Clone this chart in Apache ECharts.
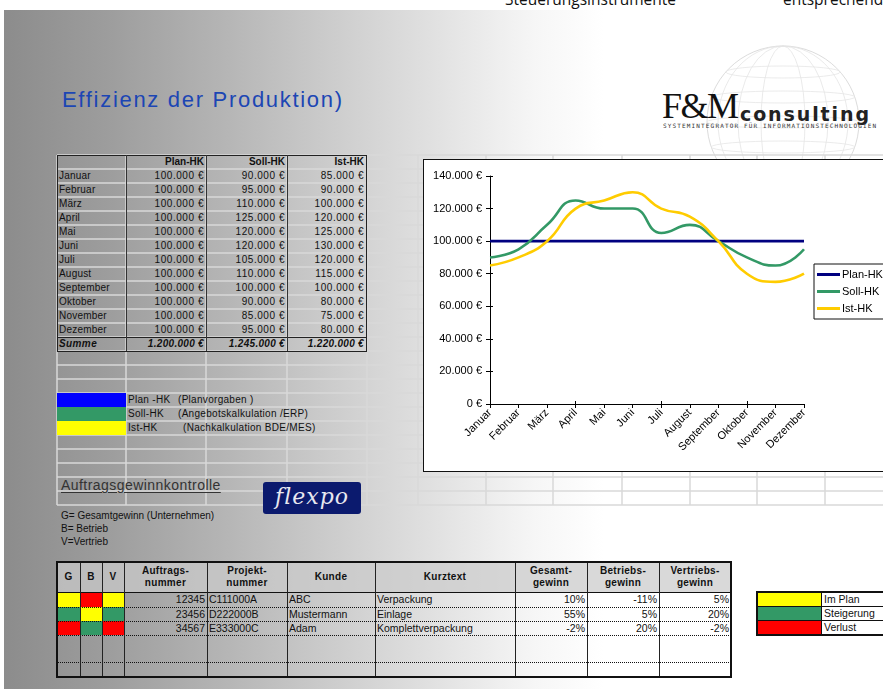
<!DOCTYPE html>
<html><head><meta charset="utf-8">
<script src="https://cdn.jsdelivr.net/npm/echarts@6/dist/echarts.min.js"></script>
<style>
html,body{margin:0;padding:0;}
body{width:883px;height:689px;overflow:hidden;position:relative;background:#fff;font-family:"Liberation Sans",Arial,sans-serif;}
.a{position:absolute;box-sizing:border-box;white-space:nowrap;}
</style></head>
<body>
<div id="root"></div>
<script>
// ---------- data ----------
const months = ['Januar','Februar','März','April','Mai','Juni','Juli','August','September','Oktober','November','Dezember'];
const planHK = [100000,100000,100000,100000,100000,100000,100000,100000,100000,100000,100000,100000];
const sollHK = [90000,95000,110000,125000,120000,120000,105000,110000,100000,90000,85000,95000];
const istHK  = [85000,90000,100000,120000,125000,130000,120000,115000,100000,80000,75000,80000];
const seriesNames = ['Plan-HK','Soll-HK','Ist-HK'];
const yTickMax = 140000, yTickStep = 20000;

const hkLegendNames = ['Plan -HK','Soll-HK','Ist-HK'];
const hkLegendNotes = ['(Planvorgaben )','(Angebotskalkulation /ERP)','(Nachkalkulation  BDE/MES)'];

const abbrevNotes = ['G= Gesamtgewinn (Unternehmen)','B= Betrieb','V=Vertrieb'];

const orderHeaders = ['G','B','V','Auftrags-\nnummer','Projekt-\nnummer','Kunde','Kurztext','Gesamt-\ngewinn','Betriebs-\ngewinn','Vertriebs-\ngewinn'];
const orderNos  = ['12345','23456','34567'];
const projectNos = ['C111000A','D222000B','E333000C'];
const customers = ['ABC','Mustermann','Adam'];
const shortTexts = ['Verpackung','Einlage','Komplettverpackung'];
const totalProfit = ['10%','55%','-2%'];
const plantProfit = ['-11%','5%','20%'];
const salesProfit = ['5%','20%','-2%'];
const gStatus = ['plan','up','loss'];
const bStatus = ['loss','plan','up'];
const vStatus = ['plan','up','loss'];
const statusKeys = ['plan','up','loss'];
const statusLabels = ['Im Plan','Steigerung','Verlust'];

// ---------- styles ----------
const seriesColors = ['#000080','#339966','#FFCC00'];
const hkSwatch = ['#0000FF','#339966','#FFFF00'];
const statusColor = {plan:'#FFFF00', up:'#339966', loss:'#FF0000'};

const root = document.getElementById('root');
function box(x,y,w,h,css,text){
  const d=document.createElement('div');
  d.className='a';
  d.style.cssText += `left:${x}px;top:${y}px;width:${w}px;height:${h}px;`+(css||'');
  if(text!=null) d.textContent=text;
  root.appendChild(d); return d;
}
function fmtEuro(v){ return String(v).replace(/\B(?=(\d{3})+(?!\d))/g,'.')+' €'; }
const sum = a => a.reduce((s,v)=>s+v,0);

// ---------- background ----------
box(4,10,879,679,'background:linear-gradient(to right,#8c8c8c 0px,#9e9e9e 110px,#b7b7b7 230px,#cfcfcf 340px,#e3e3e3 440px,#f6f6f6 530px,#ffffff 600px);');
box(505,-12,200,22,'font-family:"Open Sans";font-size:15.5px;line-height:22px;color:#111;','Steuerungsinstrumente');
box(783,-12,200,22,'font-family:"Open Sans";font-size:15.5px;line-height:22px;color:#111;','entsprechend');

// globe + sheet grid (svg)
const svgNS='http://www.w3.org/2000/svg';
const svg=document.createElementNS(svgNS,'svg');
svg.setAttribute('width','883');svg.setAttribute('height','689');
svg.style.cssText='position:absolute;left:0;top:0;';
root.appendChild(svg);
function sv(tag,attrs){const e=document.createElementNS(svgNS,tag);for(const k in attrs)e.setAttribute(k,attrs[k]);svg.appendChild(e);return e;}
const gc={cx:783,cy:122,r:76};
sv('circle',{cx:gc.cx,cy:gc.cy,r:gc.r,fill:'none',stroke:'#dcdcdc','stroke-width':1});
[22,45,65].forEach(rx=>sv('ellipse',{cx:gc.cx,cy:gc.cy,rx:rx,ry:gc.r,fill:'none',stroke:'#e4e4e4','stroke-width':0.8}));
[-50,-25,0,25,50].forEach(dy=>{const hw=Math.sqrt(gc.r*gc.r-dy*dy);sv('ellipse',{cx:gc.cx,cy:gc.cy+dy,rx:hw,ry:6,fill:'none',stroke:'#e6e6e6','stroke-width':0.8});});

const gridCols=[57,126,206,287,367,418,486,553,622,690,757,825,893];
const gridTop=155, gridRow=14, gridRows=25;
for(let i=0;i<=gridRows;i++){const y=gridTop+i*gridRow;sv('line',{x1:57,x2:883,y1:y,y2:y,stroke:'#d8d8d8','stroke-width':1.5});}
gridCols.forEach(x=>sv('line',{x1:x,x2:x,y1:gridTop,y2:gridTop+gridRows*gridRow,stroke:'#d8d8d8','stroke-width':1.5}));

// ---------- title & logo ----------
box(62,85,340,30,'font-size:22px;letter-spacing:1.7px;color:#1c46b4;line-height:30px;','Effizienz der Produktion)');
box(662,84,100,44,'font-family:"Liberation Serif";font-size:36px;line-height:44px;color:#111;letter-spacing:-1.5px;','F&M');
box(740,101,150,26,'font-family:"DejaVu Sans";font-weight:bold;font-size:19px;line-height:26px;color:#222;letter-spacing:1.9px;','consulting');
box(663,122,230,8,'font-family:"DejaVu Sans Mono";font-size:6px;line-height:8px;color:#333;letter-spacing:1.15px;','SYSTEMINTEGRATOR FÜR INFORMATIONSTECHNOLOGIEN');

// ---------- HK data table ----------
const tX=[57,126,206,287,366];
const tTop=155, rh=14;
const cellFont='font-size:10px;line-height:14px;color:#111;';
const hdr=['','Plan-HK','Soll-HK','Ist-HK'];
hdr.forEach((t,c)=>{ if(t) box(tX[c],tTop,tX[c+1]-tX[c],rh,cellFont+'font-weight:bold;text-align:right;padding-right:2px;',t); });
months.forEach((m,r)=>{
  const y=tTop+(r+1)*rh;
  box(tX[0],y,tX[1]-tX[0],rh,cellFont+'padding-left:2px;letter-spacing:0.2px;',m);
  [planHK,sollHK,istHK].forEach((arr,c)=>box(tX[c+1],y,tX[c+2]-tX[c+1],rh,cellFont+'text-align:right;padding-right:2px;letter-spacing:0.55px;',fmtEuro(arr[r])));
});
{
  const y=tTop+13*rh;
  box(tX[0],y,tX[1]-tX[0],rh,cellFont+'padding-left:2px;font-weight:bold;font-style:italic;letter-spacing:0.4px;','Summe');
  [planHK,sollHK,istHK].forEach((arr,c)=>box(tX[c+1],y,tX[c+2]-tX[c+1],rh,cellFont+'text-align:right;padding-right:2px;font-weight:bold;font-style:italic;letter-spacing:0.3px;',fmtEuro(sum(arr))));
  const bottom=tTop+14*rh;
  box(tX[0],tTop,tX[4]-tX[0]+1,bottom-tTop+1,'border:1.5px solid #222;');
  box(tX[0],y,tX[4]-tX[0],1,'border-top:1.5px solid #222;');
  [1,2,3].forEach(c=>box(tX[c],tTop,1,bottom-tTop,'border-left:1px solid #333;'));
}

// ---------- HK colour legend ----------
hkLegendNames.forEach((n,i)=>{
  const y=393+i*14;
  box(57,y,69,14,'background:'+hkSwatch[i]+';');
  box(128,y,60,14,'font-size:10px;line-height:14px;color:#111;letter-spacing:0.3px;',n);
  box(i===2?183:178,y,200,14,'font-size:10px;line-height:14px;color:#111;letter-spacing:0.3px;',hkLegendNotes[i]);
});

// ---------- Auftragsgewinnkontrolle ----------
box(61,476,200,18,'font-size:14px;line-height:18px;color:#333;letter-spacing:0.45px;text-decoration:underline;text-underline-offset:2px;','Auftragsgewinnkontrolle');
abbrevNotes.forEach((t,i)=>box(61,509+i*13,220,13,'font-size:10px;line-height:13px;color:#111;',t));
box(263,482,98,32,'background:#0b1a6e;border-radius:3px;');
box(263,480,98,34,'font-family:"DejaVu Serif";font-style:italic;font-size:22px;line-height:34px;color:#e8e8f0;text-align:center;letter-spacing:1px;','flexpo');

// ---------- order table ----------
const oX=[57,80,102,124,207,287,375,515,587,659,731];
const oY=[562,592,607,621,635,662,677];
box(oX[0],oY[0],oX[10]-oX[0],oY[1]-oY[0],'background:rgba(203,203,203,0.72);');
orderHeaders.forEach((t,c)=>{
  const two=t.indexOf('\n')>=0;
  box(oX[c],oY[0]+1,oX[c+1]-oX[c],oY[1]-oY[0]-1,'font-size:10px;font-weight:bold;color:#111;text-align:center;white-space:pre;line-height:'+(two?'12px':'28px')+';padding-top:'+(two?'2px':'0')+';letter-spacing:0.3px;',t);
});
for(let r=0;r<3;r++){
  const y=oY[r+1], h=oY[r+2]-oY[r+1];
  [gStatus,bStatus,vStatus].forEach((s,c)=>box(oX[c],y,oX[c+1]-oX[c],h,'background:'+statusColor[s[r]]+';'));
  const fc='font-size:10.5px;line-height:'+h+'px;color:#111;';
  box(oX[3],y,oX[4]-oX[3],h,fc+'text-align:right;padding-right:2px;',orderNos[r]);
  box(oX[4],y,oX[5]-oX[4],h,fc+'padding-left:2px;',projectNos[r]);
  box(oX[5],y,oX[6]-oX[5],h,fc+'padding-left:2px;',customers[r]);
  box(oX[6],y,oX[7]-oX[6],h,fc+'padding-left:2px;',shortTexts[r]);
  box(oX[7],y,oX[8]-oX[7],h,fc+'text-align:right;padding-right:2px;',totalProfit[r]);
  box(oX[8],y,oX[9]-oX[8],h,fc+'text-align:right;padding-right:2px;',plantProfit[r]);
  box(oX[9],y,oX[10]-oX[9],h,fc+'text-align:right;padding-right:2px;',salesProfit[r]);
}
[2,3,4,5].forEach(i=>box(oX[0],oY[i],oX[10]-oX[0],1,'border-top:1px dotted #111;'));
box(oX[0],oY[1],oX[10]-oX[0],1,'border-top:1px solid #111;');
for(let c=1;c<10;c++) box(oX[c],oY[0],1,oY[6]-oY[0],'border-left:1px solid #222;');
box(oX[0]-1,oY[0]-1,oX[10]-oX[0]+2,oY[6]-oY[0]+2,'border:2px solid #111;');

// ---------- status legend ----------
statusKeys.forEach((k,i)=>{
  const y=592+i*14;
  box(757,y,64,14,'background:'+statusColor[k]+';');
  box(821,y,90,14,'background:#fff;font-size:10.5px;line-height:14px;color:#111;padding-left:2px;border-left:1px solid #111;',statusLabels[i]);
  if(i>0) box(757,y,160,1,'border-top:1px solid #111;');
});
box(756,591,170,45,'border:2px solid #111;');

// ---------- chart ----------
const frame=box(423,159,522,313,'border:1px solid #111;background:#fff;');
const cd=document.createElement('div');
cd.style.cssText='width:520px;height:311px;';
frame.appendChild(cd);
const chart=echarts.init(cd,null,{renderer:'canvas'});
const lblFont={fontFamily:'Liberation Sans',fontSize:11,color:'#000'};
chart.setOption({
  animation:false,
  grid:{left:66,top:16,width:314,height:228},
  legend:{
    data:seriesNames, orient:'vertical', left:390, top:104,
    icon:'rect', itemWidth:23, itemHeight:3, itemGap:6,
    padding:[5,40,5,3], borderColor:'#111', borderWidth:1, backgroundColor:'#fff',
    textStyle:Object.assign({},lblFont,{padding:[0,0,0,-3]})
  },
  xAxis:[{
    type:'category', data:months, boundaryGap:false,
    axisLine:{lineStyle:{color:'#000',width:1}},
    axisTick:{show:true,length:4,lineStyle:{color:'#000'}},
    axisLabel:Object.assign({},lblFont,{rotate:45,margin:7,interval:0})
  },{
    type:'category', data:months, boundaryGap:false, position:'bottom',
    axisLine:{show:false}, axisLabel:{show:false},
    axisTick:{show:true,inside:true,length:3,lineStyle:{color:'#000'}}
  }],
  yAxis:[{
    type:'value', min:0, max:yTickMax, interval:yTickStep,
    axisLine:{show:true,lineStyle:{color:'#000',width:1}},
    axisTick:{show:true,length:4,lineStyle:{color:'#000'}},
    splitLine:{show:false},
    axisLabel:Object.assign({},lblFont,{margin:8,formatter:v=>fmtEuro(v)})
  },{
    type:'value', min:0, max:yTickMax, interval:yTickStep, position:'left',
    axisLine:{show:false}, axisLabel:{show:false}, splitLine:{show:false},
    axisTick:{show:true,inside:true,length:3,lineStyle:{color:'#000'}}
  }],
  series:[planHK,sollHK,istHK].map((d,i)=>({
    name:seriesNames[i], type:'line', data:d, smooth:true, symbol:'none',
    lineStyle:{color:seriesColors[i],width:2.6}, itemStyle:{color:seriesColors[i]}
  }))
});
</script>
</body></html>
